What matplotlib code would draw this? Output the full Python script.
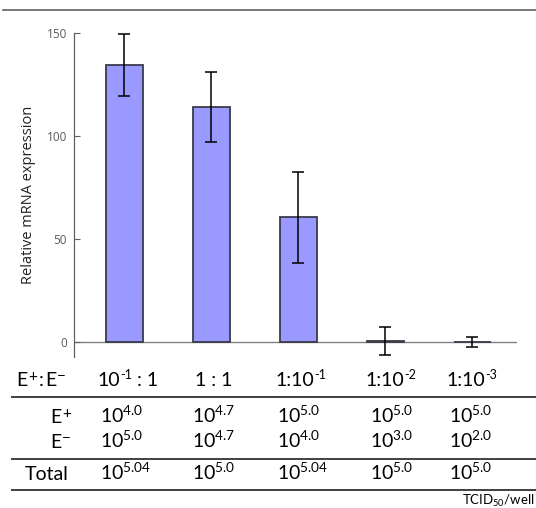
import matplotlib

matplotlib.use("Agg")

import matplotlib.pyplot as plt
from matplotlib.lines import Line2D

plt.rcParams["font.family"] = ["Lato", "DejaVu Sans"]
plt.rcParams["mathtext.fontset"] = "custom"
plt.rcParams["mathtext.rm"] = "Lato"

# data
ratio_base = ["10", "1 : 1", "1:10", "1:10", "1:10"]
ratio_sup = ["-1", "", "-1", "-2", "-3"]
ratio_tail = [" : 1", "", "", "", ""]
expression = [134.5, 114.0, 60.5, 0.5, 0.0]
expression_err = [15.0, 17.0, 22.0, 7.0, 2.3]
e_plus = ["4.0", "4.7", "5.0", "5.0", "5.0"]
e_minus = ["5.0", "4.7", "4.0", "3.0", "2.0"]
total = ["5.04", "5.0", "5.04", "5.0", "5.0"]
yticks = [0, 50, 100, 150]

W, H = 536, 508
fig = plt.figure(figsize=(W / 100, H / 100), dpi=100)
renderer = fig.canvas.get_renderer()


def fx(px):
    return px / W


def fy(py):
    return 1 - py / H


ax = fig.add_axes([fx(74), fy(357), fx(517) - fx(74), fy(33) - fy(357)])
pos = list(range(len(expression)))
ax.bar(pos, expression, width=0.425, color="#9999ff", edgecolor="#3a3a4a", linewidth=1.3, zorder=2)
ax.errorbar(pos, expression, yerr=expression_err, fmt="none", ecolor="black",
            elinewidth=1.1, capsize=4, capthick=1.1, zorder=3)
ax.axhline(0, color="#808080", linewidth=1.0, zorder=1)
ax.set_xlim(-0.575, 4.517)
ax.set_ylim(-7.3, 150)
ax.set_xticks([])
ax.set_yticks(yticks)
ax.tick_params(axis="y", direction="in", length=4, width=0.8, color="#606060",
               labelcolor="#595959", labelsize=8.5, pad=5)
for lab in ax.get_yticklabels():
    lab.set_fontfamily("Open Sans")
for s in ["top", "right", "bottom"]:
    ax.spines[s].set_visible(False)
ax.spines["left"].set_color("#606060")
ax.spines["left"].set_linewidth(0.9)
ax.set_ylabel("Relative mRNA expression", fontsize=10.5, family="Open Sans",
              color="#222222", labelpad=8)

# horizontal rules
fig.add_artist(Line2D([fx(3), 1], [fy(10), fy(10)], color="#606060", linewidth=1.2))
for py in [397, 459, 490]:
    fig.add_artist(Line2D([fx(12), 1], [fy(py), fy(py)], color="#404040", linewidth=1.4))

fs = 14
sfs = 9


def put(x, y, parts):
    # pieces laid left to right from pixel x, baseline pixel y (from top)
    cx = x
    for s, size, rise, gap in parts:
        if not s:
            continue
        t = fig.text(fx(cx + gap), fy(y - rise), s, fontsize=size, va="baseline", ha="left")
        cx = cx + gap + t.get_window_extent(renderer).width
    return cx


# header row
base_hdr = 386
put(16, base_hdr, [("E", fs, 0, 0), ("+", 11, 5, 1), (":", fs, 0, 1.5), ("E", fs, 0, 1.5),
                   ("\u2212", 11, 5, 1)])
col_x = [97, 195, 275, 365, 446]
for x, b, s, t in zip(col_x, ratio_base, ratio_sup, ratio_tail):
    put(x, base_hdr, [(b, fs, 0, 0), (s, sfs, 7, 0.5), (t, fs, 0, 0)])

put(50, 423, [("E", fs, 0, 0), ("+", 11, 5, 1)])
put(50, 448, [("E", fs, 0, 0), ("\u2212", 11, 5, 1)])
fig.text(fx(25), fy(480), "Total", fontsize=fs, va="baseline", ha="left")

val_x = [100, 192, 277, 370, 449]
for x, a, b, t in zip(val_x, e_plus, e_minus, total):
    for yy, e in [(423, a), (448, b), (480, t)]:
        fig.text(fx(x), fy(yy), r"$\mathregular{10^{%s}}$" % e, fontsize=fs,
                 va="baseline", ha="left")

fig.text(fx(534), fy(505), r"$\mathregular{TCID_{50}/well}$", fontsize=9.5,
         va="baseline", ha="right")

fig.savefig("out.png", dpi=100)
